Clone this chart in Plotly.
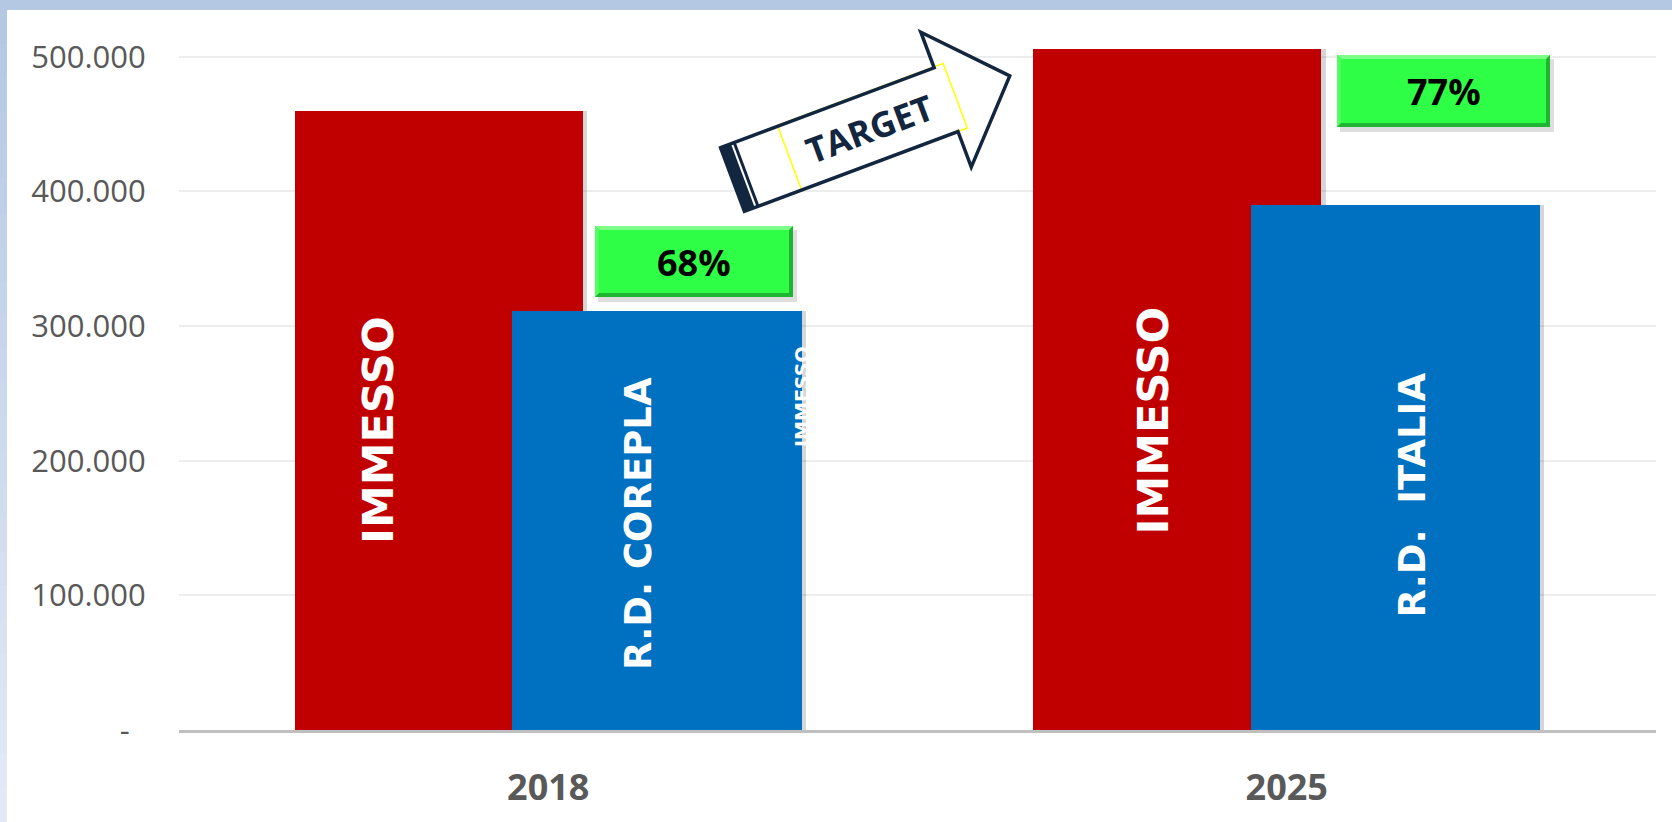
import math
import plotly.graph_objects as go

# ---------------- data ----------------
categories = ["2018", "2025"]
immesso = [460000, 506000]
raccolta = [311000, 390000]
immesso_label = "IMMESSO"
raccolta_labels = ["R.D. COREPLA", "R.D.  ITALIA"]
percent_labels = ["68%", "77%"]
y_tickvals = [0, 100000, 200000, 300000, 400000, 500000]
y_ticktext = ["-\u00a0\u00a0", "100.000", "200.000", "300.000", "400.000", "500.000"]

# ---------------- layout geometry ----------------
W, H = 1672, 822
L, R, T, B = 179, 16, 30, 92
PW = W - L - R
PH = H - T - B
YMAX = 500000 * PH / 673.3

RED = "#C00000"
BLUE = "#0070C0"
NAVY = "#13263F"
GRAY = "#595959"


def px(x):
    return (x - L) / PW


def py(y):
    return (H - B - y) / PH


fig = go.Figure()

# shadows + bars
fig.add_trace(go.Bar(x=categories, y=immesso, offset=-0.343 + 0.006, width=0.39,
                     marker=dict(color="rgba(0,0,0,0.16)", line=dict(width=0)),
                     hoverinfo="skip", showlegend=False))
fig.add_trace(go.Bar(x=categories, y=immesso, offset=-0.343, width=0.39,
                     marker=dict(color=RED, line=dict(width=0)), name="IMMESSO",
                     showlegend=False))
fig.add_trace(go.Bar(x=categories, y=raccolta, offset=-0.049 + 0.006, width=0.392,
                     marker=dict(color="rgba(0,0,0,0.16)", line=dict(width=0)),
                     hoverinfo="skip", showlegend=False))
fig.add_trace(go.Bar(x=categories, y=raccolta, offset=-0.049, width=0.392,
                     marker=dict(color=BLUE, line=dict(width=0)), name="R.D.",
                     showlegend=False))

shapes = []
annotations = []

# ---------------- page border ----------------
shapes.append(dict(type="rect", xref="paper", yref="paper", layer="above",
                   x0=px(0), x1=px(W), y0=py(0), y1=py(10),
                   fillcolor="#B4C8E4", line=dict(width=0)))
nseg = 24
c0 = (180, 200, 228)
c1 = (226, 234, 245)
for i in range(nseg):
    t = i / (nseg - 1)
    col = tuple(int(round(c0[k] + (c1[k] - c0[k]) * t)) for k in range(3))
    y0 = 10 + (H - 10) * i / nseg
    y1 = 10 + (H - 10) * (i + 1) / nseg + 1
    shapes.append(dict(type="rect", xref="paper", yref="paper", layer="above",
                       x0=px(0), x1=px(7), y0=py(y0), y1=py(y1),
                       fillcolor="rgb(%d,%d,%d)" % col, line=dict(width=0)))

# ---------------- bar labels ----------------
def vtext(text, cx, cy, size, color="white"):
    annotations.append(dict(text="<b>%s</b>" % text, xref="paper", yref="paper",
                            x=px(cx), y=py(cy), xanchor="center", yanchor="middle",
                            textangle=-90, showarrow=False,
                            font=dict(family="DejaVu Sans", size=size, color=color)))


vtext(immesso_label, 378, 430, 43)
vtext(raccolta_labels[0], 638.5, 523.5, 37)
vtext(immesso_label, 1152.5, 421, 43)
vtext(raccolta_labels[1], 1411.5, 495, 37)
vtext(immesso_label, 801.5, 396.5, 19)

# ---------------- green percentage boxes ----------------
def green_box(x0, y0, x1, y1, text):
    shapes.append(dict(type="rect", xref="paper", yref="paper", layer="above",
                       x0=px(x0 + 3), x1=px(x1 + 4), y0=py(y0 + 4), y1=py(y1 + 5),
                       fillcolor="rgba(0,0,0,0.13)", line=dict(width=0)))
    shapes.append(dict(type="rect", xref="paper", yref="paper", layer="above",
                       x0=px(x0), x1=px(x1), y0=py(y0), y1=py(y1),
                       fillcolor="#1FB533", line=dict(width=0)))
    i = 4
    path = "M %f,%f L %f,%f L %f,%f L %f,%f Z" % (
        px(x0), py(y0), px(x1), py(y0), px(x1 - i), py(y0 + i), px(x0 + i), py(y0 + i))
    shapes.append(dict(type="path", xref="paper", yref="paper", layer="above",
                       path=path, fillcolor="#7DFF88", line=dict(width=0)))
    path = "M %f,%f L %f,%f L %f,%f L %f,%f Z" % (
        px(x0), py(y0), px(x0 + i), py(y0 + i), px(x0 + i), py(y1 - i), px(x0), py(y1))
    shapes.append(dict(type="path", xref="paper", yref="paper", layer="above",
                       path=path, fillcolor="#55FF63", line=dict(width=0)))
    shapes.append(dict(type="rect", xref="paper", yref="paper", layer="above",
                       x0=px(x0 + i), x1=px(x1 - i), y0=py(y0 + i), y1=py(y1 - i),
                       fillcolor="#2EFF46", line=dict(width=0)))
    annotations.append(dict(text="<b>%s</b>" % text, xref="paper", yref="paper",
                            x=px((x0 + x1) / 2), y=py((y0 + y1) / 2 + 1),
                            xanchor="center", yanchor="middle", showarrow=False,
                            font=dict(family="Open Sans", size=36, color="black")))


green_box(595, 226, 793, 297, percent_labels[0])
green_box(1337, 55, 1550, 127, percent_labels[1])

# ---------------- TARGET arrow ----------------
C0 = (732.5, 179.5)
ang = math.radians(20.5)
d = (math.cos(ang), -math.sin(ang))
n = (math.sin(ang), math.cos(ang))


def loc(u, v):
    X = C0[0] + u * d[0] + v * n[0]
    Y = C0[1] + u * d[1] + v * n[1]
    return px(X), py(Y)


def poly(pts):
    s = []
    for k, (u, v) in enumerate(pts):
        x, y = loc(u, v)
        s.append(("M" if k == 0 else "L") + " %f,%f" % (x, y))
    return " ".join(s) + " Z"


hw = 34
arrow_pts = [(0, -hw), (228, -hw), (228, -72), (296, 0), (228, 72), (228, hw), (0, hw)]
shapes.append(dict(type="path", xref="paper", yref="paper", layer="above",
                   path=poly(arrow_pts), fillcolor="white", line=dict(width=0)))
shapes.append(dict(type="path", xref="paper", yref="paper", layer="above",
                   path=poly([(61, -35), (238, -35), (238, 34), (61, 34)]),
                   fillcolor="rgba(0,0,0,0)", line=dict(color="#FFFF00", width=1.5)))
shapes.append(dict(type="path", xref="paper", yref="paper", layer="above",
                   path=poly([(0, -hw), (11, -hw), (11, hw), (0, hw)]),
                   fillcolor=NAVY, line=dict(width=0)))
shapes.append(dict(type="path", xref="paper", yref="paper", layer="above",
                   path=poly([(13, -hw), (16, -hw), (16, hw), (13, hw)]),
                   fillcolor=NAVY, line=dict(width=0)))
shapes.append(dict(type="path", xref="paper", yref="paper", layer="above",
                   path=poly(arrow_pts), fillcolor="rgba(0,0,0,0)",
                   line=dict(color=NAVY, width=3.5)))
tx, ty = loc(146, 0)
annotations.append(dict(text="<b>TARGET</b>", xref="paper", yref="paper",
                        x=tx, y=ty, xanchor="center", yanchor="middle",
                        textangle=-20.5, showarrow=False,
                        font=dict(family="Open Sans", size=35, color=NAVY)))

fig.update_layout(
    width=W, height=H, autosize=False,
    margin=dict(l=L, r=R, t=T, b=B, pad=0, autoexpand=False),
    paper_bgcolor="white", plot_bgcolor="white",
    barmode="overlay", bargap=0,
    showlegend=False,
    shapes=shapes,
    annotations=annotations,
    xaxis=dict(type="category", range=[-0.5, 1.5], showgrid=False, zeroline=False,
               automargin=False,
               showline=True, linecolor="#BFBFBF", linewidth=3,
               ticks="outside", ticklen=24, tickcolor="rgba(0,0,0,0)",
               tickfont=dict(family="Open Sans", size=36, color=GRAY, weight="bold")),
    yaxis=dict(range=[0, YMAX], tickvals=y_tickvals, ticktext=y_ticktext,
               automargin=False,
               showgrid=True, gridcolor="#EDEDED", gridwidth=1.5, zeroline=False,
               showline=False, ticks="outside", ticklen=26,
               tickcolor="rgba(0,0,0,0)",
               tickfont=dict(family="Open Sans", size=31, color=GRAY)),
)

fig.write_html("out.html",
               config={"displayModeBar": False},
               post_script="document.body.style.margin='0px';document.body.style.overflow='hidden';")
